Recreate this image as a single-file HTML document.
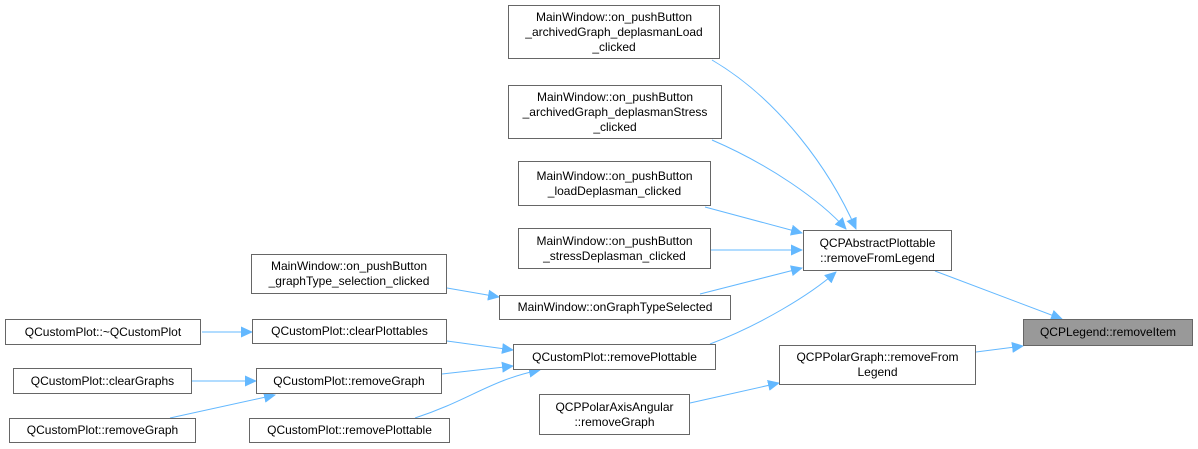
<!DOCTYPE html>
<html><head><meta charset="utf-8"><style>
body{margin:0;background:#fff;width:1198px;height:449px;overflow:hidden;font-family:"Liberation Sans",Arial,sans-serif}
.n{position:absolute;box-sizing:border-box;border:1px solid #666;background:#fff;font-size:12px;line-height:15px;color:#000;text-align:center;display:flex;align-items:center;justify-content:center}
svg{position:absolute;left:0;top:0}
</style></head><body>
<svg width="1198" height="449">
<defs><marker id="a" markerWidth="12" markerHeight="11" refX="11" refY="5.5" orient="auto" markerUnits="userSpaceOnUse"><path d="M0,0 L12,5.5 L0,11 z" fill="#63b8ff"/></marker></defs>
<g stroke="#63b8ff" stroke-width="1" fill="none" marker-end="url(#a)">
<path d="M712,60 C780,100 830,170 856,229"/>
<path d="M712,140 C770,165 820,200 846,229"/>
<path d="M705,207 L802,233"/>
<path d="M711,250 L802,250"/>
<path d="M700,294 L802,268"/>
<path d="M710,344 C760,325 810,295 836,272"/>
<path d="M935,271 L1062,319"/>
<path d="M976,352 L1023,346"/>
<path d="M690,403 L779,383"/>
<path d="M447,288 L499,297"/>
<path d="M202,332 L252,332"/>
<path d="M447,341 L513,350"/>
<path d="M442,374 L513,366"/>
<path d="M415,418 C470,400 490,380 540,370"/>
<path d="M192,381 L256,381"/>
<path d="M170,418 L275,395"/>
</g>
</svg>
<div class="n" style="left:508px;top:5px;width:212px;height:54px">MainWindow::on_pushButton<br>_archivedGraph_deplasmanLoad<br>_clicked</div>
<div class="n" style="left:508px;top:85px;width:214px;height:54px">MainWindow::on_pushButton<br>_archivedGraph_deplasmanStress<br>_clicked</div>
<div class="n" style="left:518px;top:161px;width:193px;height:45px">MainWindow::on_pushButton<br>_loadDeplasman_clicked</div>
<div class="n" style="left:518px;top:228px;width:193px;height:41px">MainWindow::on_pushButton<br>_stressDeplasman_clicked</div>
<div class="n" style="left:803px;top:230px;width:149px;height:41px">QCPAbstractPlottable<br>::removeFromLegend</div>
<div class="n" style="left:1023px;top:319px;width:170px;height:27px;background:#999">QCPLegend::removeItem</div>
<div class="n" style="left:779px;top:345px;width:197px;height:40px">QCPPolarGraph::removeFrom<br>Legend</div>
<div class="n" style="left:251px;top:254px;width:196px;height:40px">MainWindow::on_pushButton<br>_graphType_selection_clicked</div>
<div class="n" style="left:499px;top:295px;width:232px;height:25px">MainWindow::onGraphTypeSelected</div>
<div class="n" style="left:5px;top:319px;width:196px;height:26px">QCustomPlot::~QCustomPlot</div>
<div class="n" style="left:252px;top:319px;width:195px;height:25px">QCustomPlot::clearPlottables</div>
<div class="n" style="left:513px;top:344px;width:203px;height:26px">QCustomPlot::removePlottable</div>
<div class="n" style="left:13px;top:368px;width:179px;height:26px">QCustomPlot::clearGraphs</div>
<div class="n" style="left:256px;top:368px;width:186px;height:26px">QCustomPlot::removeGraph</div>
<div class="n" style="left:539px;top:394px;width:151px;height:41px">QCPPolarAxisAngular<br>::removeGraph</div>
<div class="n" style="left:9px;top:418px;width:187px;height:25px">QCustomPlot::removeGraph</div>
<div class="n" style="left:249px;top:418px;width:201px;height:25px">QCustomPlot::removePlottable</div>
</body></html>
